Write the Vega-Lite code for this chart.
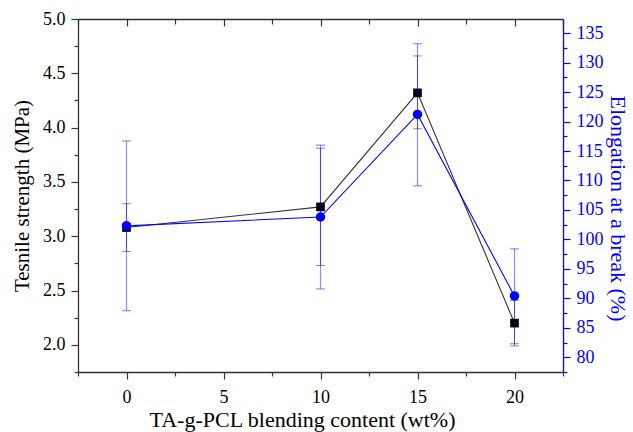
{
  "$schema": "https://vega.github.io/schema/vega-lite/v6.json",
  "width": 485,
  "height": 353,
  "autosize": "none",
  "padding": {"left": 78, "top": 19, "right": 70, "bottom": 60},
  "background": "white",
  "config": {"view": {"stroke": null}, "font": "Liberation Serif"},
  "data": {"values": [
    {"x": 0, "ts": 3.08, "ts_lo": 2.86, "ts_hi": 3.30, "el": 102.3, "el_lo": 87.9, "el_hi": 116.7},
    {"x": 10, "ts": 3.27, "ts_lo": 2.73, "ts_hi": 3.81, "el": 103.8, "el_lo": 91.6, "el_hi": 116.0},
    {"x": 15, "ts": 4.32, "ts_lo": 3.99, "ts_hi": 4.66, "el": 121.2, "el_lo": 109.1, "el_hi": 133.2},
    {"x": 20, "ts": 2.20, "ts_lo": 1.99, "ts_hi": 2.41, "el": 90.4, "el_lo": 82.3, "el_hi": 98.4}
  ]},
  "layer": [
    {
      "encoding": {
        "x": {"field": "x", "type": "quantitative", "scale": {"domain": [-2.5, 22.5], "nice": false, "zero": false},
          "axis": {"orient": "bottom", "values": [-2.5, 0, 2.5, 5, 7.5, 10, 12.5, 15, 17.5, 20, 22.5],
            "labelExpr": "datum.value % 5 == 0 ? format(datum.value, 'd') : ''",
            "tickSize": {"condition": {"test": "datum.value % 5 == 0", "value": 7}, "value": 4},
            "labelFlush": false, "labelOverlap": false, "grid": false,
            "title": "TA-g-PCL blending content (wt%)", "titleFont": "Liberation Serif", "titleFontSize": 22, "titleFontWeight": "normal", "titleColor": "black", "titlePadding": 3, "titleX": 224,
            "labelFont": "Liberation Serif", "labelFontSize": 18, "labelColor": "black", "labelPadding": 9,
            "domainColor": "#333", "tickColor": "#333", "domainWidth": 1.3, "tickWidth": 1.2}}
      },
      "layer": [
        {"mark": {"type": "rule", "color": "#000", "opacity": 0.45, "strokeWidth": 1},
          "encoding": {"y": {"field": "ts_lo", "type": "quantitative", "scale": {"domain": [1.75, 5.0], "nice": false, "zero": false},
            "axis": {"orient": "left", "values": [1.75, 2, 2.25, 2.5, 2.75, 3, 3.25, 3.5, 3.75, 4, 4.25, 4.5, 4.75, 5],
              "labelExpr": "(datum.value * 2) % 1 == 0 ? format(datum.value, '.1f') : ''",
              "tickSize": {"condition": {"test": "(datum.value * 2) % 1 == 0", "value": 7}, "value": 4},
              "labelFlush": false, "labelOverlap": false, "grid": false,
              "title": "Tesnile strength (MPa)", "titleFont": "Liberation Serif", "titleFontSize": 21, "titleFontWeight": "normal", "titleColor": "black", "titlePadding": 10,
              "labelFont": "Liberation Serif", "labelFontSize": 18, "labelColor": "black", "labelPadding": 6,
              "domainColor": "#333", "tickColor": "#333", "domainWidth": 1.3, "tickWidth": 1.2}}, "y2": {"field": "ts_hi"}}},
        {"mark": {"type": "tick", "orient": "horizontal", "color": "#000", "opacity": 0.45, "size": 9, "thickness": 1},
          "encoding": {"y": {"field": "ts_lo", "type": "quantitative",
            "axis": {"orient": "left", "values": [1.75, 2, 2.25, 2.5, 2.75, 3, 3.25, 3.5, 3.75, 4, 4.25, 4.5, 4.75, 5],
              "labelExpr": "(datum.value * 2) % 1 == 0 ? format(datum.value, '.1f') : ''",
              "tickSize": {"condition": {"test": "(datum.value * 2) % 1 == 0", "value": 7}, "value": 4},
              "labelFlush": false, "labelOverlap": false, "grid": false,
              "title": "Tesnile strength (MPa)", "titleFont": "Liberation Serif", "titleFontSize": 21, "titleFontWeight": "normal", "titleColor": "black", "titlePadding": 10,
              "labelFont": "Liberation Serif", "labelFontSize": 18, "labelColor": "black", "labelPadding": 6,
              "domainColor": "#333", "tickColor": "#333", "domainWidth": 1.3, "tickWidth": 1.2}}}},
        {"mark": {"type": "tick", "orient": "horizontal", "color": "#000", "opacity": 0.45, "size": 9, "thickness": 1},
          "encoding": {"y": {"field": "ts_hi", "type": "quantitative",
            "axis": {"orient": "left", "values": [1.75, 2, 2.25, 2.5, 2.75, 3, 3.25, 3.5, 3.75, 4, 4.25, 4.5, 4.75, 5],
              "labelExpr": "(datum.value * 2) % 1 == 0 ? format(datum.value, '.1f') : ''",
              "tickSize": {"condition": {"test": "(datum.value * 2) % 1 == 0", "value": 7}, "value": 4},
              "labelFlush": false, "labelOverlap": false, "grid": false,
              "title": "Tesnile strength (MPa)", "titleFont": "Liberation Serif", "titleFontSize": 21, "titleFontWeight": "normal", "titleColor": "black", "titlePadding": 10,
              "labelFont": "Liberation Serif", "labelFontSize": 18, "labelColor": "black", "labelPadding": 6,
              "domainColor": "#333", "tickColor": "#333", "domainWidth": 1.3, "tickWidth": 1.2}}}},
        {"mark": {"type": "line", "color": "#333", "strokeWidth": 1.1},
          "encoding": {"y": {"field": "ts", "type": "quantitative",
            "axis": {"orient": "left", "values": [1.75, 2, 2.25, 2.5, 2.75, 3, 3.25, 3.5, 3.75, 4, 4.25, 4.5, 4.75, 5],
              "labelExpr": "(datum.value * 2) % 1 == 0 ? format(datum.value, '.1f') : ''",
              "tickSize": {"condition": {"test": "(datum.value * 2) % 1 == 0", "value": 7}, "value": 4},
              "labelFlush": false, "labelOverlap": false, "grid": false,
              "title": "Tesnile strength (MPa)", "titleFont": "Liberation Serif", "titleFontSize": 21, "titleFontWeight": "normal", "titleColor": "black", "titlePadding": 10,
              "labelFont": "Liberation Serif", "labelFontSize": 18, "labelColor": "black", "labelPadding": 6,
              "domainColor": "#333", "tickColor": "#333", "domainWidth": 1.3, "tickWidth": 1.2}}}},
        {"mark": {"type": "point", "shape": "square", "filled": true, "color": "black", "size": 75, "opacity": 1},
          "encoding": {"y": {"field": "ts", "type": "quantitative",
            "axis": {"orient": "left", "values": [1.75, 2, 2.25, 2.5, 2.75, 3, 3.25, 3.5, 3.75, 4, 4.25, 4.5, 4.75, 5],
              "labelExpr": "(datum.value * 2) % 1 == 0 ? format(datum.value, '.1f') : ''",
              "tickSize": {"condition": {"test": "(datum.value * 2) % 1 == 0", "value": 7}, "value": 4},
              "labelFlush": false, "labelOverlap": false, "grid": false,
              "title": "Tesnile strength (MPa)", "titleFont": "Liberation Serif", "titleFontSize": 21, "titleFontWeight": "normal", "titleColor": "black", "titlePadding": 10,
              "labelFont": "Liberation Serif", "labelFontSize": 18, "labelColor": "black", "labelPadding": 6,
              "domainColor": "#333", "tickColor": "#333", "domainWidth": 1.3, "tickWidth": 1.2}}}}
      ]
    },
    {
      "encoding": {
        "x": {"field": "x", "type": "quantitative",
          "axis": {"orient": "top", "values": [-2.5, 0, 2.5, 5, 7.5, 10, 12.5, 15, 17.5, 20, 22.5],
            "labels": false, "title": null, "grid": false,
            "tickSize": {"condition": {"test": "datum.value % 5 == 0", "value": -7}, "value": -5},
            "domainColor": "#333", "tickColor": "#333", "domainWidth": 1.3, "tickWidth": 1.2}}
      },
      "layer": [
        {"mark": {"type": "rule", "color": "#0000ff", "opacity": 0.45, "strokeWidth": 1.2},
          "encoding": {"y": {"field": "el_lo", "type": "quantitative", "scale": {"domain": [77.5, 137.4], "nice": false, "zero": false},
            "axis": {"orient": "right", "values": [77.5, 80, 82.5, 85, 87.5, 90, 92.5, 95, 97.5, 100, 102.5, 105, 107.5, 110, 112.5, 115, 117.5, 120, 122.5, 125, 127.5, 130, 132.5, 135],
              "labelExpr": "datum.value % 5 == 0 ? format(datum.value, 'd') : ''",
              "tickSize": {"condition": {"test": "datum.value % 5 == 0", "value": 7}, "value": 4},
              "labelFlush": false, "labelOverlap": false, "grid": false,
              "title": "Elongation at a break (%)", "titleFont": "Liberation Serif", "titleFontSize": 22, "titleFontWeight": "normal", "titleColor": "#0000ff", "titlePadding": 2, "titleY": 189,
              "labelFont": "Liberation Serif", "labelFontSize": 18, "labelColor": "#0000ff", "labelPadding": 6,
              "domainColor": "#0000ff", "tickColor": "#0000ff", "domainWidth": 1.3, "tickWidth": 1.2}}, "y2": {"field": "el_hi"}}},
        {"mark": {"type": "tick", "orient": "horizontal", "color": "#0000ff", "opacity": 0.45, "size": 9, "thickness": 1.2},
          "encoding": {"y": {"field": "el_lo", "type": "quantitative",
            "axis": {"orient": "right", "values": [77.5, 80, 82.5, 85, 87.5, 90, 92.5, 95, 97.5, 100, 102.5, 105, 107.5, 110, 112.5, 115, 117.5, 120, 122.5, 125, 127.5, 130, 132.5, 135],
              "labelExpr": "datum.value % 5 == 0 ? format(datum.value, 'd') : ''",
              "tickSize": {"condition": {"test": "datum.value % 5 == 0", "value": 7}, "value": 4},
              "labelFlush": false, "labelOverlap": false, "grid": false,
              "title": "Elongation at a break (%)", "titleFont": "Liberation Serif", "titleFontSize": 22, "titleFontWeight": "normal", "titleColor": "#0000ff", "titlePadding": 2, "titleY": 189,
              "labelFont": "Liberation Serif", "labelFontSize": 18, "labelColor": "#0000ff", "labelPadding": 6,
              "domainColor": "#0000ff", "tickColor": "#0000ff", "domainWidth": 1.3, "tickWidth": 1.2}}}},
        {"mark": {"type": "tick", "orient": "horizontal", "color": "#0000ff", "opacity": 0.45, "size": 9, "thickness": 1.2},
          "encoding": {"y": {"field": "el_hi", "type": "quantitative",
            "axis": {"orient": "right", "values": [77.5, 80, 82.5, 85, 87.5, 90, 92.5, 95, 97.5, 100, 102.5, 105, 107.5, 110, 112.5, 115, 117.5, 120, 122.5, 125, 127.5, 130, 132.5, 135],
              "labelExpr": "datum.value % 5 == 0 ? format(datum.value, 'd') : ''",
              "tickSize": {"condition": {"test": "datum.value % 5 == 0", "value": 7}, "value": 4},
              "labelFlush": false, "labelOverlap": false, "grid": false,
              "title": "Elongation at a break (%)", "titleFont": "Liberation Serif", "titleFontSize": 22, "titleFontWeight": "normal", "titleColor": "#0000ff", "titlePadding": 2, "titleY": 189,
              "labelFont": "Liberation Serif", "labelFontSize": 18, "labelColor": "#0000ff", "labelPadding": 6,
              "domainColor": "#0000ff", "tickColor": "#0000ff", "domainWidth": 1.3, "tickWidth": 1.2}}}},
        {"mark": {"type": "line", "color": "#0000ff", "strokeWidth": 1.1},
          "encoding": {"y": {"field": "el", "type": "quantitative",
            "axis": {"orient": "right", "values": [77.5, 80, 82.5, 85, 87.5, 90, 92.5, 95, 97.5, 100, 102.5, 105, 107.5, 110, 112.5, 115, 117.5, 120, 122.5, 125, 127.5, 130, 132.5, 135],
              "labelExpr": "datum.value % 5 == 0 ? format(datum.value, 'd') : ''",
              "tickSize": {"condition": {"test": "datum.value % 5 == 0", "value": 7}, "value": 4},
              "labelFlush": false, "labelOverlap": false, "grid": false,
              "title": "Elongation at a break (%)", "titleFont": "Liberation Serif", "titleFontSize": 22, "titleFontWeight": "normal", "titleColor": "#0000ff", "titlePadding": 2, "titleY": 189,
              "labelFont": "Liberation Serif", "labelFontSize": 18, "labelColor": "#0000ff", "labelPadding": 6,
              "domainColor": "#0000ff", "tickColor": "#0000ff", "domainWidth": 1.3, "tickWidth": 1.2}}}},
        {"mark": {"type": "point", "shape": "circle", "filled": true, "color": "#0000ff", "size": 90, "opacity": 1},
          "encoding": {"y": {"field": "el", "type": "quantitative",
            "axis": {"orient": "right", "values": [77.5, 80, 82.5, 85, 87.5, 90, 92.5, 95, 97.5, 100, 102.5, 105, 107.5, 110, 112.5, 115, 117.5, 120, 122.5, 125, 127.5, 130, 132.5, 135],
              "labelExpr": "datum.value % 5 == 0 ? format(datum.value, 'd') : ''",
              "tickSize": {"condition": {"test": "datum.value % 5 == 0", "value": 7}, "value": 4},
              "labelFlush": false, "labelOverlap": false, "grid": false,
              "title": "Elongation at a break (%)", "titleFont": "Liberation Serif", "titleFontSize": 22, "titleFontWeight": "normal", "titleColor": "#0000ff", "titlePadding": 2, "titleY": 189,
              "labelFont": "Liberation Serif", "labelFontSize": 18, "labelColor": "#0000ff", "labelPadding": 6,
              "domainColor": "#0000ff", "tickColor": "#0000ff", "domainWidth": 1.3, "tickWidth": 1.2}}}}
      ]
    }
  ],
  "resolve": {"scale": {"y": "independent"}, "axis": {"x": "independent", "y": "independent"}}
}
